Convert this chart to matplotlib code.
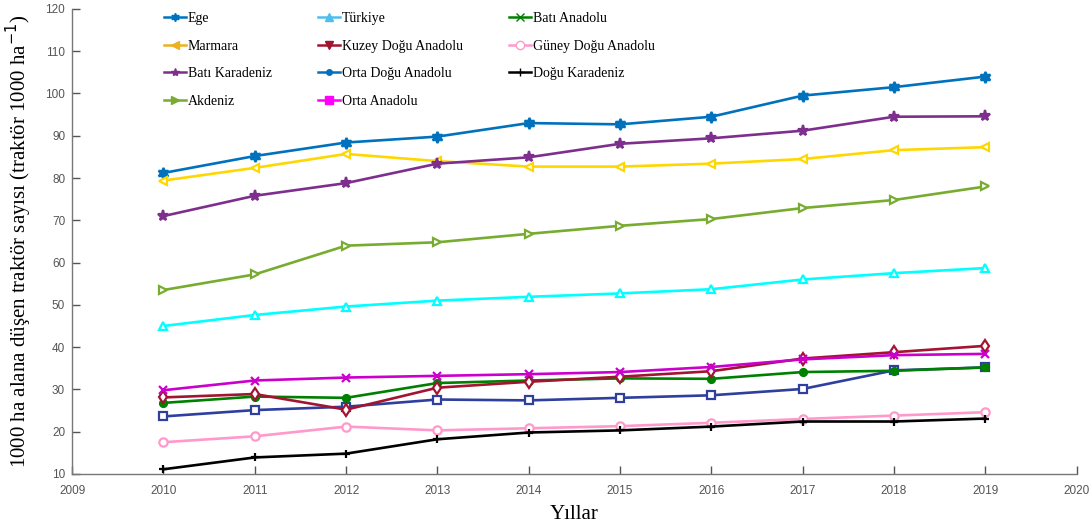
import matplotlib
matplotlib.use("Agg")
import matplotlib.pyplot as plt
from matplotlib.lines import Line2D

years = [2010, 2011, 2012, 2013, 2014, 2015, 2016, 2017, 2018, 2019]

ege = [81.2, 85.2, 88.4, 89.8, 93.0, 92.7, 94.5, 99.5, 101.5, 104.0]
marmara = [79.4, 82.4, 85.7, 84.0, 82.7, 82.7, 83.4, 84.5, 86.6, 87.3]
bati_karadeniz = [71.0, 75.8, 78.8, 83.4, 84.9, 88.1, 89.4, 91.2, 94.5, 94.6]
akdeniz = [53.5, 57.2, 64.0, 64.8, 66.8, 68.7, 70.3, 72.9, 74.8, 78.0]
turkiye = [45.0, 47.6, 49.6, 51.0, 51.9, 52.7, 53.7, 56.0, 57.5, 58.7]
orta_anadolu = [29.8, 32.1, 32.8, 33.2, 33.6, 34.1, 35.3, 37.1, 38.1, 38.4]
kuzey_dogu = [28.1, 28.9, 25.2, 30.4, 31.8, 33.0, 34.3, 37.3, 38.8, 40.3]
bati_anadolu = [26.8, 28.3, 28.0, 31.5, 32.1, 32.6, 32.5, 34.1, 34.4, 35.2]
orta_dogu = [23.6, 25.1, 25.9, 27.6, 27.4, 28.0, 28.6, 30.1, 34.5, 35.2]
guney_dogu = [17.5, 18.9, 21.2, 20.3, 20.8, 21.3, 22.1, 23.0, 23.8, 24.6]
dogu_karadeniz = [11.1, 13.9, 14.8, 18.2, 19.8, 20.3, 21.2, 22.4, 22.4, 23.1]

xticks = list(range(2009, 2021))
yticks = list(range(10, 121, 10))

fig = plt.figure(figsize=(10.92, 5.26), dpi=100)
ax = fig.add_axes([0.066, 0.099, 0.920, 0.884])

lw = 1.9
series = [
    (ege, '#0072BD', (6, 1, 0), 'full'),
    (marmara, '#FFD700', '<', 'none'),
    (bati_karadeniz, '#7E2F8E', '*', 'full'),
    (akdeniz, '#77AC30', '>', 'none'),
    (turkiye, '#00FFFF', '^', 'none'),
    (guney_dogu, '#FF99CC', 'o', 'none'),
    (dogu_karadeniz, '#000000', '+', 'full'),
    (orta_dogu, '#2E3F9E', 's', 'none'),
    (bati_anadolu, '#008000', 'o', 'full'),
    (kuzey_dogu, '#A2142F', 'd', 'none'),
    (orta_anadolu, '#CC00CC', 'x', 'full'),
]
for vals, c, m, fill in series:
    if m in ((6, 1, 0), '*'):
        ms = 8
    elif m == 'o' and fill == 'full':
        ms = 5
    else:
        ms = 6
    ax.plot(years, vals, color=c, lw=lw, marker=m, ms=ms, mew=1.6,
            mfc=(c if fill == 'full' else 'white'), mec=c)

ax.set_xlim(2009, 2020)
ax.set_ylim(10, 120)
ax.set_xticks(xticks)
ax.set_yticks(yticks)
ax.tick_params(direction='in', length=6, width=1, colors='#555555',
               labelsize=8.5)
ax.tick_params(axis='x', pad=8)
ax.tick_params(axis='y', pad=5)
for lab in ax.get_xticklabels() + ax.get_yticklabels():
    lab.set_fontfamily('Liberation Sans')
for s in ['top', 'right']:
    ax.spines[s].set_visible(False)
for s in ['left', 'bottom']:
    ax.spines[s].set_color('#777777')
    ax.spines[s].set_linewidth(1.0)

ax.set_xlabel('Yıllar', fontfamily='Liberation Serif', fontsize=15, labelpad=6)
ax.set_ylabel('1000 ha alana düşen traktör sayısı (traktör 1000 ha$^{-1}$)',
              fontfamily='Liberation Serif', fontsize=15, labelpad=8)

# legend (proxy handles as in reference legend)
legcols = [
    [('Ege', '#0072BD', (6, 1, 0)), ('Marmara', '#EDB120', '<'),
     ('Batı Karadeniz', '#7E2F8E', '*'), ('Akdeniz', '#77AC30', '>')],
    [('Türkiye', '#4DBEEE', '^'), ('Kuzey Doğu Anadolu', '#A2142F', 'v'),
     ('Orta Doğu Anadolu', '#0072BD', 'o'), ('Orta Anadolu', '#FF00FF', 's')],
    [('Batı Anadolu', '#008000', 'x'), ('Güney Doğu Anadolu', '#FF99CC', 'o'),
     ('Doğu Karadeniz', '#000000', '+')],
]
xpos = [160 / 1092, 314 / 1092, 505 / 1092]
for col, xp in zip(legcols, xpos):
    handles = []
    for name, c, m in col:
        fill = c if m not in ('o',) or name == 'Orta Doğu Anadolu' else 'white'
        ms = 4 if name == 'Orta Doğu Anadolu' else 6
        handles.append(Line2D([], [], color=c, lw=1.8, marker=m, ms=ms,
                              mfc=fill, mec=c, label=name))
    leg = fig.legend(handles=handles, loc='upper left',
                     bbox_to_anchor=(xp, 1.0 - 8 / 526), frameon=False,
                     prop={'family': 'Liberation Serif', 'size': 10},
                     handlelength=1.55, handletextpad=0.15, labelspacing=1.05,
                     borderpad=0.3, borderaxespad=0)

fig.savefig('out.png', dpi=100)
